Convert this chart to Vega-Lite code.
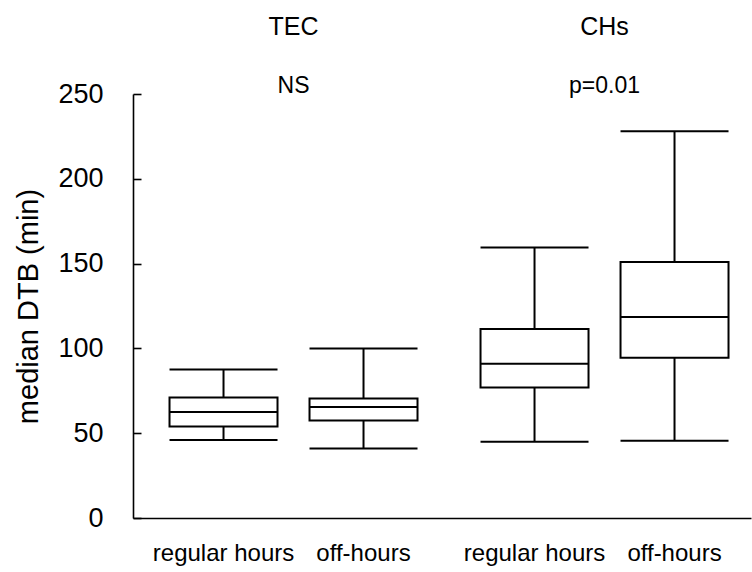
{
  "$schema": "https://vega.github.io/schema/vega-lite/v6.json",
  "background": "white",
  "autosize": {"type": "none"},
  "padding": {"left": 133, "top": 94, "right": 1, "bottom": 54},
  "width": 618,
  "height": 424,
  "data": {"values": [
    {"group": "TEC", "period": "regular hours", "lower": 46, "q1": 54, "median": 62.5, "q3": 71, "upper": 87.5, "test": "NS"},
    {"group": "TEC", "period": "off-hours", "lower": 41, "q1": 57.5, "median": 65.5, "q3": 70.5, "upper": 100, "test": "NS"},
    {"group": "CHs", "period": "regular hours", "lower": 45, "q1": 77, "median": 91, "q3": 111.5, "upper": 159.5, "test": "p=0.01"},
    {"group": "CHs", "period": "off-hours", "lower": 45.5, "q1": 94.5, "median": 118.5, "q3": 151, "upper": 228, "test": "p=0.01"}
  ]},
  "encoding": {
    "x": {
      "field": "group", "type": "nominal", "sort": ["TEC", "CHs"],
      "scale": {"paddingInner": 0.0997, "paddingOuter": 0.0434, "align": 0.76},
      "axis": {"title": null, "labels": false, "ticks": false, "domainColor": "black", "domainWidth": 1.6, "grid": false}
    }
  },
  "layer": [
    {
      "mark": {"type": "rule", "color": "black", "strokeWidth": 2},
      "encoding": {
        "xOffset": {"field": "period", "type": "nominal", "sort": ["regular hours", "off-hours"], "scale": {"paddingInner": 0.2286, "paddingOuter": 0.1143}},
        "y": {"field": "lower", "type": "quantitative", "scale": {"domain": [0, 250], "padding": 0, "nice": false, "zero": false},
          "axis": {"title": "median DTB (min)", "values": [0, 50, 100, 150, 200, 250], "grid": false, "ticks": false,
            "labelFontSize": 27, "labelColor": "black", "labelFont": "Liberation Sans", "titleFontSize": 29, "titleFont": "Liberation Sans",
            "titleFontWeight": "normal", "titleColor": "black", "domainColor": "black", "domainWidth": 1.6, "labelPadding": 30, "titlePadding": 14}},
        "y2": {"field": "upper"}
      }
    },
    {
      "mark": {"type": "bar", "fill": "white", "stroke": "black", "strokeWidth": 2, "opacity": 1},
      "encoding": {
        "xOffset": {"field": "period", "type": "nominal", "sort": ["regular hours", "off-hours"]},
        "y": {"field": "q1", "type": "quantitative",
          "axis": {"orient": "right", "offset": -618, "title": null, "labels": false, "domain": false, "grid": false,
            "values": [0, 50, 100, 150, 200, 250], "ticks": true, "tickSize": 8, "tickColor": "black", "tickWidth": 1.6}},
        "y2": {"field": "q3"}
      }
    },
    {
      "mark": {"type": "tick", "color": "black", "thickness": 2, "size": 108, "opacity": 1},
      "encoding": {
        "xOffset": {"field": "period", "type": "nominal", "sort": ["regular hours", "off-hours"]},
        "y": {"field": "median", "type": "quantitative", "axis": null}
      }
    },
    {
      "mark": {"type": "tick", "color": "black", "thickness": 2, "size": 108, "opacity": 1},
      "encoding": {
        "xOffset": {"field": "period", "type": "nominal", "sort": ["regular hours", "off-hours"]},
        "y": {"field": "lower", "type": "quantitative", "axis": null}
      }
    },
    {
      "mark": {"type": "tick", "color": "black", "thickness": 2, "size": 108, "opacity": 1},
      "encoding": {
        "xOffset": {"field": "period", "type": "nominal", "sort": ["regular hours", "off-hours"]},
        "y": {"field": "upper", "type": "quantitative", "axis": null}
      }
    },
    {
      "mark": {"type": "text", "fontSize": 24, "font": "Liberation Sans", "color": "black", "baseline": "top", "dy": 24},
      "encoding": {
        "xOffset": {"field": "period", "type": "nominal", "sort": ["regular hours", "off-hours"]},
        "text": {"field": "period"},
        "y": {"datum": 0, "type": "quantitative", "axis": null}
      }
    },
    {
      "transform": [{"filter": "datum.period == 'regular hours'"}],
      "mark": {"type": "text", "fontSize": 23, "font": "Liberation Sans", "color": "black", "baseline": "alphabetic", "dy": -1},
      "encoding": {
        "text": {"field": "test"},
        "y": {"datum": 250, "type": "quantitative", "axis": null}
      }
    },
    {
      "transform": [{"filter": "datum.period == 'regular hours'"}],
      "mark": {"type": "text", "fontSize": 25, "font": "Liberation Sans", "color": "black", "baseline": "alphabetic", "dy": -59},
      "encoding": {
        "text": {"field": "group"},
        "y": {"datum": 250, "type": "quantitative", "axis": null}
      }
    }
  ],
  "resolve": {"axis": {"y": "independent"}},
  "config": {"view": {"stroke": null}, "font": "Liberation Sans"}
}
